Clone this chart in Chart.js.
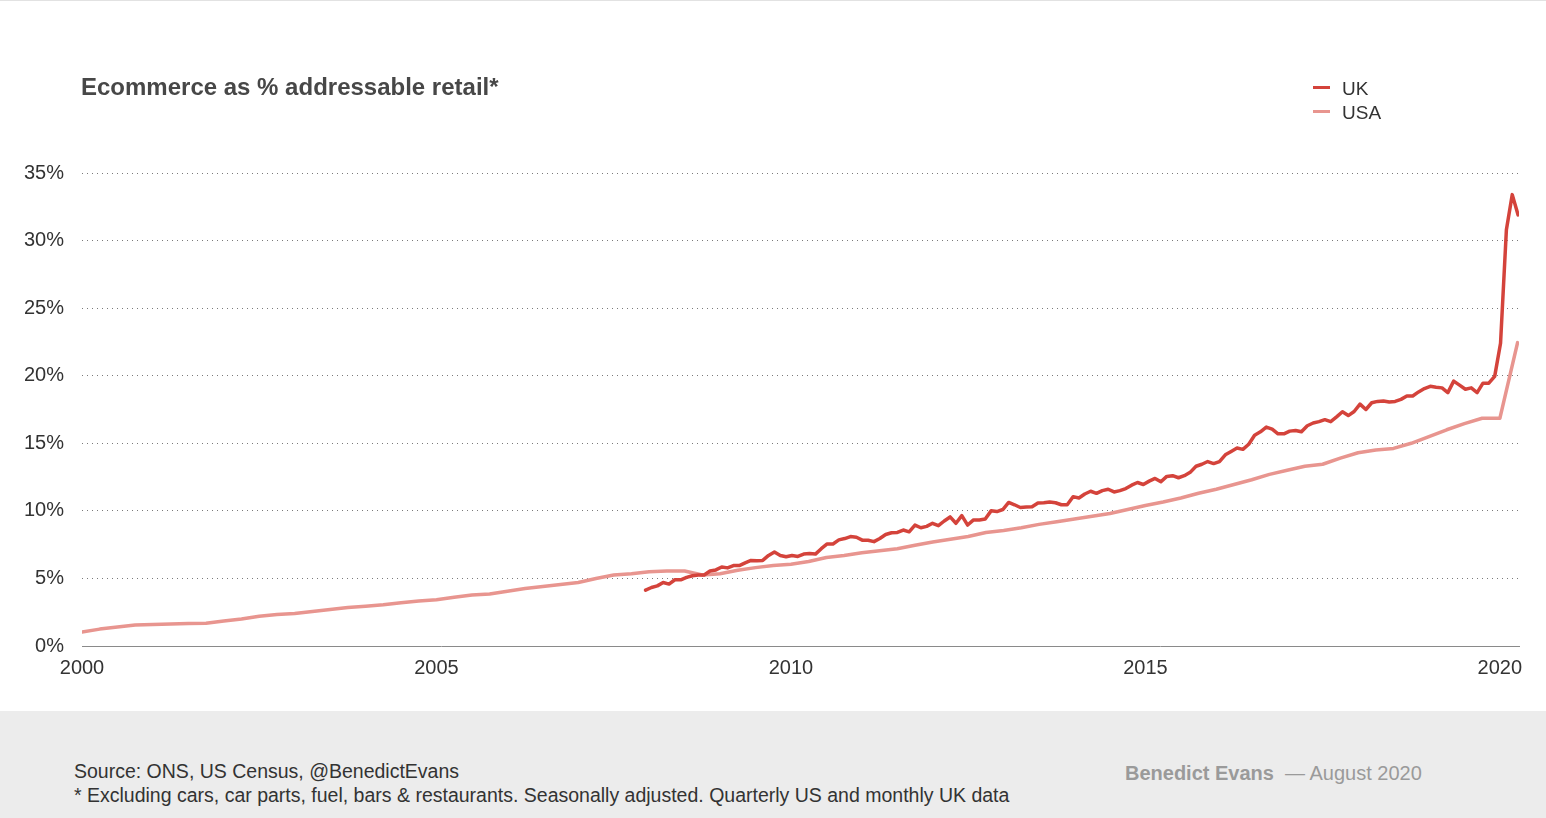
<!DOCTYPE html>
<html>
<head>
<meta charset="utf-8">
<script src="https://cdn.jsdelivr.net/npm/chart.js@4"></script>
<style>
  html, body { margin: 0; padding: 0; background: #fff; }
  body { width: 1546px; height: 818px; position: relative; overflow: hidden; font-family: "Liberation Sans", Arial, sans-serif; border-top: 1px solid #e2e2e2; box-sizing: border-box; }
  #title { position: absolute; left: 81px; top: 72px; font-size: 24px; font-weight: bold; color: #474747; }
  .leg { position: absolute; left: 1313px; font-size: 19px; color: #333; }
  .leg i { display: inline-block; width: 17px; height: 3px; margin-right: 12px; vertical-align: middle; position: relative; top: -2px; }
  #wrap { position: absolute; left: 0; top: 0; width: 1546px; height: 710px; }
  #foot { position: absolute; left: 0; top: 710px; width: 1546px; height: 108px; background: #ececec; }
  #src { position: absolute; left: 74px; top: 48px; font-size: 19.5px; color: #333; line-height: 24px; }
  #sig { position: absolute; left: 1125px; top: 51px; font-size: 20px; color: #9a9a9a; }
</style>
</head>
<body>
<div id="wrap"><canvas id="c"></canvas></div>
<div id="title">Ecommerce as % addressable retail*</div>
<div class="leg" style="top:77px"><i style="background:#d4433b"></i>UK</div>
<div class="leg" style="top:101px"><i style="background:#e8958f"></i>USA</div>
<div id="foot">
  <div id="src">Source: ONS, US Census, @BenedictEvans<br>* Excluding cars, car parts, fuel, bars &amp; restaurants. Seasonally adjusted. Quarterly US and monthly UK data</div>
  <div id="sig"><b>Benedict Evans</b> &nbsp;— August 2020</div>
</div>
<script>
// USA, quarterly from 2000 Q1 to 2020 Q2 (% of addressable retail)
const usaStart = 2000;
const usaValues = [
  1.03, 1.25, 1.4, 1.55,
  1.6, 1.63, 1.67, 1.69,
  1.85, 2.0, 2.2, 2.33,
  2.4, 2.55, 2.7, 2.85,
  2.95, 3.05, 3.2, 3.33,
  3.43, 3.6, 3.78, 3.85,
  4.05, 4.25, 4.4, 4.55,
  4.7, 5.0, 5.25, 5.35,
  5.5, 5.55, 5.55, 5.25,
  5.35, 5.6, 5.8, 5.95,
  6.05, 6.25, 6.55, 6.7,
  6.9, 7.05, 7.2, 7.45,
  7.7, 7.9, 8.1, 8.4,
  8.55, 8.75, 9.0, 9.2,
  9.4, 9.6, 9.8, 10.1,
  10.4, 10.65, 10.95, 11.3,
  11.6, 11.95, 12.3, 12.7,
  13.0, 13.3, 13.45, 13.9,
  14.3, 14.5, 14.62, 15.0,
  15.5, 16.0, 16.45, 16.85,
  16.85, 22.45
];

// UK, monthly from Jan 2008 to Jun 2020
const ukStart = 2007.95;
const ukStep = 0.0826; // one month as drawn on the axis
const ukValues = [
  4.13, 4.33, 4.45, 4.7, 4.58, 4.9, 4.9, 5.08, 5.2, 5.25, 5.25, 5.55,
  5.63, 5.85, 5.78, 5.95, 5.95, 6.15, 6.33, 6.3, 6.33, 6.7, 6.95, 6.7,
  6.6, 6.7, 6.63, 6.8, 6.85, 6.8, 7.2, 7.55, 7.55, 7.85, 7.95, 8.1,
  8.05, 7.83, 7.83, 7.72, 7.95, 8.25, 8.38, 8.4, 8.58, 8.45, 8.95, 8.75,
  8.85, 9.08, 8.9, 9.25, 9.55, 9.08, 9.65, 8.95, 9.33, 9.33, 9.4, 10.0,
  9.95, 10.1, 10.62, 10.45, 10.25, 10.28, 10.3, 10.58, 10.6, 10.65, 10.6, 10.45,
  10.45, 11.05, 10.95, 11.25, 11.45, 11.3, 11.5, 11.6, 11.4, 11.5, 11.65, 11.9,
  12.1, 11.95, 12.2, 12.4, 12.15, 12.55, 12.6, 12.45, 12.6, 12.85, 13.3, 13.45,
  13.65, 13.5, 13.65, 14.15, 14.4, 14.65, 14.55, 14.93, 15.6, 15.85, 16.2, 16.05,
  15.7, 15.7, 15.9, 15.95, 15.85, 16.3, 16.5, 16.6, 16.75, 16.6, 16.95, 17.33,
  17.05, 17.35, 17.9, 17.5, 18.0, 18.1, 18.13, 18.05, 18.1, 18.25, 18.5, 18.5,
  18.8, 19.05, 19.22, 19.15, 19.1, 18.75, 19.6, 19.3, 19.0, 19.1, 18.75, 19.45,
  19.45, 19.95, 22.4, 30.8, 33.4, 31.9
];

const yTicks = [0, 5, 10, 15, 20, 25, 30, 35];
const xTicks = [2000, 2005, 2010, 2015, 2020];

const usaPts = usaValues.map((v, i) => ({ x: usaStart + i / 4, y: v }));
const ukPts  = ukValues.map((v, i) => ({ x: ukStart + i * ukStep, y: v }));

const tc = '#333';
const font = { family: '"Liberation Sans", Arial, sans-serif', size: 20 };

new Chart(document.getElementById('c'), {
  type: 'line',
  data: {
    datasets: [
      { label: 'UK', data: ukPts, borderColor: '#d4433b', borderWidth: 3.5, pointRadius: 0, tension: 0, borderJoinStyle: 'round', borderCapStyle: 'round' },
      { label: 'USA', data: usaPts, borderColor: '#e8958f', borderWidth: 3.5, pointRadius: 0, tension: 0, borderJoinStyle: 'round', borderCapStyle: 'round' },
    ],
  },
  options: {
    responsive: true,
    maintainAspectRatio: false,
    animation: false,
    layout: { padding: { left: 0, right: 27, top: 172, bottom: 0 } },
    plugins: { legend: { display: false }, tooltip: { enabled: false } },
    scales: {
      x: {
        type: 'linear',
        min: 2000,
        max: 2020.27,
        afterBuildTicks: s => { s.ticks = xTicks.map(v => ({ value: v })); },
        afterFit: s => { s.height = 65; },
        ticks: { color: tc, font, padding: 10, maxRotation: 0, callback: v => String(v) },
        grid: { display: false, drawTicks: false },
        border: { display: true, color: '#8a8a8a', width: 1 },
      },
      y: {
        min: 0,
        max: 35,
        afterBuildTicks: s => { s.ticks = yTicks.map(v => ({ value: v })); },
        afterFit: s => { s.width = 82; },
        ticks: { color: tc, font, padding: 18, callback: v => v + '%' },
        grid: { color: '#7a7a7a', lineWidth: 1, drawTicks: false },
        border: { display: false, dash: [1, 4] },
      },
    },
  },
});
</script>
</body>
</html>
